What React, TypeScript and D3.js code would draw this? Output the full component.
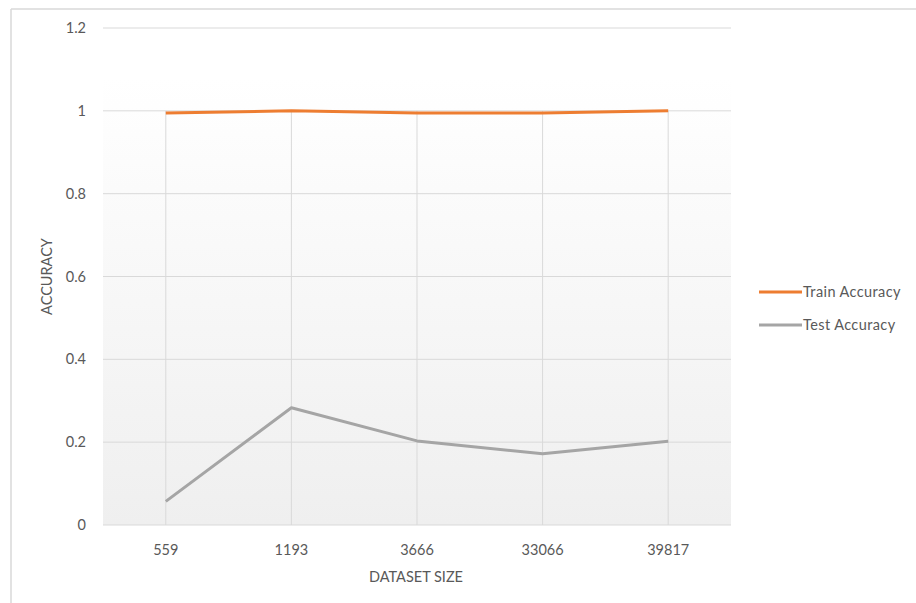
import React from "react";
import * as d3 from "d3";

const categories = ["559", "1193", "3666", "33066", "39817"];
const trainAccuracy = [0.995, 1.0, 0.995, 0.995, 1.0];
const testAccuracy = [0.057, 0.283, 0.203, 0.172, 0.202];
const yTicks = [0, 0.2, 0.4, 0.6, 0.8, 1, 1.2];
const seriesNames = ["Train Accuracy", "Test Accuracy"];
const seriesColors = ["#ED7D31", "#A5A5A5"];

const W = 916;
const H = 603;
const plot = { left: 103, right: 731, top: 28, bottom: 525 };
const FONT = "Lato, 'Open Sans', sans-serif";
const FS = 14.5;

export default function App() {
  const x = d3
    .scaleBand<string>()
    .domain(categories)
    .range([plot.left, plot.right]);
  const cx = (c: string) => (x(c) ?? 0) + x.bandwidth() / 2;
  const y = d3.scaleLinear().domain([0, 1.2]).range([plot.bottom, plot.top]);

  const line = d3
    .line<number>()
    .x((_, i) => cx(categories[i]))
    .y((v) => y(v));

  const series = [trainAccuracy, testAccuracy];

  return (
    <div style={{ position: "fixed", left: 0, top: 0 }}>
      <svg width={W} height={H} style={{ display: "block", background: "#fff" }}>
        <defs>
          <linearGradient id="plotBg" x1="0" y1="0" x2="0" y2="1">
            <stop offset="0.1" stopColor="#ffffff" />
            <stop offset="1" stopColor="#efefef" />
          </linearGradient>
        </defs>
        {/* outer frame */}
        <line x1={11} y1={9} x2={W} y2={9} stroke="#d9d9d9" strokeWidth={1.5} />
        <line x1={11} y1={9} x2={11} y2={H} stroke="#d9d9d9" strokeWidth={1.5} />

        <rect
          x={plot.left}
          y={plot.top}
          width={plot.right - plot.left}
          height={plot.bottom - plot.top}
          fill="url(#plotBg)"
        />

        {/* horizontal gridlines + y labels */}
        {yTicks.map((t) => (
          <g key={t}>
            <line
              x1={plot.left}
              x2={plot.right}
              y1={y(t)}
              y2={y(t)}
              stroke="#d9d9d9"
              strokeWidth={1}
            />
            <text
              x={86}
              y={y(t)}
              dy="0.35em"
              textAnchor="end"
              fontFamily={FONT}
              fontSize={FS}
              fill="#595959"
            >
              {t}
            </text>
          </g>
        ))}

        {/* vertical gridlines + x labels */}
        {categories.map((c) => (
          <g key={c}>
            <line
              x1={cx(c)}
              x2={cx(c)}
              y1={y(1)}
              y2={plot.bottom}
              stroke="#d9d9d9"
              strokeWidth={1}
            />
            <text
              x={cx(c)}
              y={550}
              dy="0.35em"
              textAnchor="middle"
              fontFamily={FONT}
              fontSize={FS}
              fill="#595959"
            >
              {c}
            </text>
          </g>
        ))}

        {/* series lines */}
        {series.map((s, i) => (
          <path
            key={i}
            d={line(s) ?? ""}
            fill="none"
            stroke={seriesColors[i]}
            strokeWidth={3}
            strokeLinejoin="round"
          />
        ))}

        {/* axis titles */}
        <text
          x={416}
          y={577}
          dy="0.35em"
          textAnchor="middle"
          fontFamily={FONT}
          fontSize={FS}
          fill="#595959"
        >
          DATASET SIZE
        </text>
        <text
          transform={`translate(47,${(plot.top + plot.bottom) / 2}) rotate(-90)`}
          dy="0.35em"
          textAnchor="middle"
          fontFamily={FONT}
          fontSize={FS}
          fill="#595959"
        >
          ACCURACY
        </text>

        {/* legend */}
        {seriesNames.map((n, i) => (
          <g key={n} transform={`translate(759,${292 + i * 33})`}>
            <line x1={0} x2={43} y1={0} y2={0} stroke={seriesColors[i]} strokeWidth={3} />
            <text
              x={44}
              y={0}
              dy="0.35em"
              fontFamily={FONT}
              fontSize={FS}
              letterSpacing={0.4}
              fill="#595959"
            >
              {n}
            </text>
          </g>
        ))}
      </svg>
    </div>
  );
}
